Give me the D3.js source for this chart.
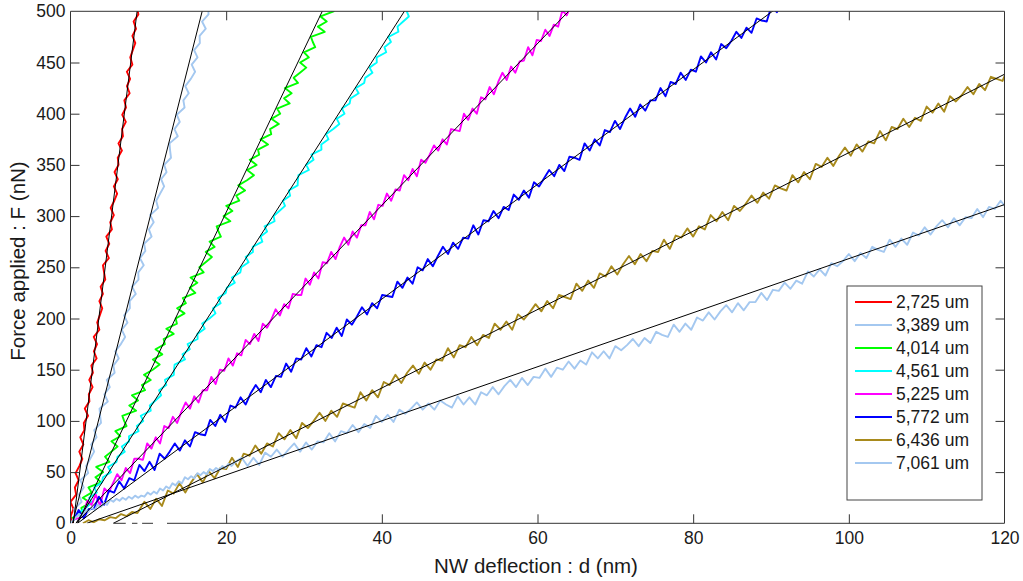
<!DOCTYPE html>
<html>
<head>
<meta charset="utf-8">
<title>Force applied vs NW deflection</title>
<script src="https://cdn.jsdelivr.net/npm/d3@7"></script>
<style>
  html, body { margin:0; padding:0; background:#fff; }
  svg { display:block; font-family:'Liberation Sans', Arial, sans-serif; }
  .tick text { font-size:17.5px; fill:#1a1a1a; }
  .tick line { stroke:#333; }
</style>
</head>
<body>
<svg id="chart" width="1023" height="581"></svg>
<script>
// legend labels (NW length) and colours
var names = ['2,725 um','3,389 um','4,014 um','4,561 um','5,225 um','5,772 um','6,436 um','7,061 um'];
var colors = ['#ff0000','#a4c8f0','#00ff00','#00ffff','#ff00ff','#0000ff','#a88a1c','#a4c8f0'];

// linear fits : F = slope * (d - zero)
var fitSlope = [61, 30, 15.9, 11.85, 7.9, 5.6, 3.83, 2.64];
var fitZero  = [0.36, 0.25, 0.9, 0.7, 0.7, 0.9, 5.5, 2.1];

var xTicks = [0,20,40,60,80,100,120];
var yTicks = [0,50,100,150,200,250,300,350,400,450,500];

// measured curves [d (nm), F (nN)]
var red = [[0.33,0],[0.02,7],[0.38,14],[0.0,21],[0.72,28],[0.56,35],[1.05,42],[0.65,49],[1.15,56],[1.52,63],[1.13,70],[1.65,77],[1.26,84],[1.78,91],[1.71,98],[2.26,105],[1.84,112],[2.43,119],[2.35,126],[2.84,133],[2.41,140],[2.88,147],[2.68,154],[3.35,161],[3.0,168],[3.41,175],[2.99,182],[3.71,189],[3.43,196],[3.76,203],[4.08,210],[3.71,217],[4.17,224],[3.87,231],[4.47,238],[4.31,245],[4.17,252],[4.93,259],[4.51,266],[4.98,273],[4.6,280],[5.32,287],[5.11,294],[5.57,301],[5.16,308],[5.63,315],[5.99,322],[5.57,329],[6.08,336],[5.66,343],[6.17,350],[6.07,357],[6.61,364],[6.16,371],[6.74,378],[6.63,385],[7.11,392],[6.65,399],[7.13,406],[6.92,413],[7.6,420],[7.25,427],[7.66,434],[7.24,441],[7.95,448],[7.68,455],[8.0,462],[8.33,469],[7.95,476],[8.42,483],[8.11,490],[8.72,497],[8.55,504]];

var lightBlue1 = [[0.05,0],[0.63,7],[0.47,14],[1.43,21],[1.08,28],[1.7,35],[1.26,42],[2.27,49],[2.01,56],[2.53,63],[3.04,70],[2.65,77],[3.35,84],[3.05,91],[3.92,98],[3.81,105],[3.73,112],[4.79,119],[4.35,126],[5.05,133],[4.66,140],[5.67,147],[5.51,154],[6.2,161],[5.76,168],[6.47,175],[7.02,182],[6.58,189],[7.32,196],[6.89,203],[7.63,210],[7.6,217],[8.39,224],[7.91,231],[8.74,238],[8.71,245],[9.41,252],[8.92,259],[9.62,266],[9.46,273],[10.42,280],[10.07,287],[10.69,294],[10.25,301],[11.26,308],[11.01,315],[11.52,322],[12.03,329],[11.64,336],[12.34,343],[12.04,350],[12.91,357],[12.8,364],[12.72,371],[13.78,378],[13.35,385],[14.04,392],[13.65,399],[14.66,406],[14.5,413],[15.19,420],[14.75,427],[15.46,434],[16.01,441],[15.57,448],[16.32,455],[15.88,462],[16.62,469],[16.59,476],[17.38,483],[16.9,490],[17.73,497],[17.7,504]];

var green = [[0.19,5],[1.56,10],[1.4,15],[2.53,20],[1.58,25],[2.71,30],[2.31,35],[3.92,40],[3.21,45],[4.18,50],[3.3,55],[4.99,60],[4.44,65],[5.25,70],[6.05,75],[5.26,80],[6.39,85],[5.76,90],[7.2,95],[6.89,100],[6.66,105],[8.43,110],[7.55,115],[8.68,120],[7.89,125],[9.58,130],[9.18,135],[10.31,140],[9.44,145],[10.57,150],[11.45,155],[10.58,160],[11.79,165],[10.92,170],[12.12,175],[11.97,180],[13.26,185],[12.31,190],[13.67,195],[13.52,200],[14.65,205],[13.7,210],[14.82,215],[14.43,220],[16.04,225],[15.33,230],[16.29,235],[15.42,240],[17.11,245],[16.56,250],[17.36,255],[18.17,260],[17.38,265],[18.51,270],[17.87,275],[19.32,280],[19.01,285],[18.78,290],[20.54,295],[19.67,300],[20.8,305],[20.01,310],[21.69,315],[21.3,320],[22.43,325],[21.56,330],[22.68,335],[23.57,340],[22.7,345],[23.91,350],[23.03,355],[24.24,360],[24.09,365],[25.38,370],[24.42,375],[25.79,380],[25.64,385],[26.77,390],[25.81,395],[26.94,400],[26.55,405],[28.16,410],[27.44,415],[28.41,420],[27.54,425],[29.23,430],[28.67,435],[29.48,440],[30.29,445],[29.5,450],[30.62,455],[29.99,460],[31.44,465],[31.13,470],[30.89,475],[32.66,480],[31.79,485],[32.92,490],[32.12,495],[33.81,500],[33.41,505]];

var cyan = [[1.33,5],[1.01,10],[1.94,15],[2.72,20],[2.4,25],[3.38,30],[3.06,35],[4.04,40],[4.17,45],[5.2,50],[4.83,55],[5.91,60],[6.04,65],[6.97,70],[6.6,75],[7.53,80],[7.51,85],[8.74,90],[8.52,95],[9.35,100],[9.03,105],[10.31,110],[10.19,115],[10.92,120],[11.65,125],[11.38,130],[12.31,135],[12.14,140],[13.27,145],[13.3,150],[13.38,155],[14.71,160],[14.39,165],[15.32,170],[15.05,175],[16.33,180],[16.31,185],[17.24,190],[16.92,195],[17.85,200],[18.63,205],[18.31,210],[19.29,215],[18.97,220],[19.95,225],[20.08,230],[21.11,235],[20.74,240],[21.82,245],[21.95,250],[22.88,255],[22.51,260],[23.44,265],[23.42,270],[24.65,275],[24.43,280],[25.26,285],[24.94,290],[26.22,295],[26.1,300],[26.83,305],[27.56,310],[27.29,315],[28.22,320],[28.05,325],[29.18,330],[29.21,335],[29.29,340],[30.62,345],[30.3,350],[31.23,355],[30.96,360],[32.24,365],[32.22,370],[33.15,375],[32.83,380],[33.76,385],[34.54,390],[34.22,395],[35.2,400],[34.88,405],[35.86,410],[35.99,415],[37.02,420],[36.65,425],[37.73,430],[37.86,435],[38.79,440],[38.42,445],[39.35,450],[39.33,455],[40.56,460],[40.34,465],[41.17,470],[40.85,475],[42.13,480],[42.01,485],[42.74,490],[43.47,495],[43.2,500],[44.13,505]];

var magenta = [[0.5,4],[1.05,5],[1.6,7],[2.15,22],[2.7,18],[3.25,28],[3.8,17],[4.35,34],[4.9,30],[5.45,39],[6.0,48],[6.55,42],[7.1,54],[7.65,49],[8.2,63],[8.75,63],[9.3,62],[9.85,78],[10.4,73],[10.95,84],[11.5,78],[12.05,95],[12.6,93],[13.15,104],[13.7,98],[14.25,109],[14.8,118],[15.35,112],[15.9,124],[16.45,118],[17.0,130],[17.55,130],[18.1,143],[18.65,136],[19.2,150],[19.75,149],[20.3,161],[20.85,154],[21.4,166],[21.95,164],[22.5,179],[23.05,175],[23.6,185],[24.15,178],[24.7,195],[25.25,191],[25.8,199],[26.35,209],[26.9,203],[27.45,214],[28.0,210],[28.55,224],[29.1,223],[29.65,223],[30.2,239],[30.75,233],[31.3,245],[31.85,239],[32.4,255],[32.95,254],[33.5,265],[34.05,258],[34.6,270],[35.15,279],[35.7,272],[36.25,285],[36.8,279],[37.35,291],[37.9,291],[38.45,304],[39.0,297],[39.55,311],[40.1,310],[40.65,322],[41.2,315],[41.75,326],[42.3,325],[42.85,340],[43.4,335],[43.95,346],[44.5,339],[45.05,355],[45.6,352],[46.15,360],[46.7,369],[47.25,364],[47.8,375],[48.35,370],[48.9,385],[49.45,384],[50.0,383],[50.55,400],[51.1,394],[51.65,405],[52.2,400],[52.75,416],[53.3,414],[53.85,426],[54.4,419],[54.95,431],[55.5,440],[56.05,433],[56.6,446],[57.15,440],[57.7,451],[58.25,452],[58.8,465],[59.35,457],[59.9,472],[60.45,471],[61.0,482],[61.55,476],[62.1,487],[62.65,485],[63.2,501],[63.75,496],[64.3,506]];

var blue = [[0.4,3],[1.05,13],[1.7,5],[2.35,14],[3.0,14],[3.65,26],[4.3,18],[4.95,32],[5.6,30],[6.25,41],[6.9,34],[7.55,44],[8.2,42],[8.85,57],[9.5,51],[10.15,60],[10.8,52],[11.45,68],[12.1,63],[12.75,70],[13.4,78],[14.05,71],[14.7,81],[15.35,75],[16.0,89],[16.65,87],[17.3,86],[17.95,101],[18.6,95],[19.25,106],[19.9,99],[20.55,115],[21.2,113],[21.85,123],[22.5,116],[23.15,127],[23.8,135],[24.45,128],[25.1,140],[25.75,133],[26.4,144],[27.05,143],[27.7,156],[28.35,148],[29.0,161],[29.65,160],[30.3,171],[30.95,163],[31.6,174],[32.25,172],[32.9,186],[33.55,181],[34.2,191],[34.85,183],[35.5,199],[36.15,194],[36.8,202],[37.45,211],[38.1,204],[38.75,215],[39.4,210],[40.05,223],[40.7,222],[41.35,221],[42.0,236],[42.65,230],[43.3,240],[43.95,234],[44.6,250],[45.25,247],[45.9,258],[46.55,251],[47.2,261],[47.85,270],[48.5,263],[49.15,274],[49.8,268],[50.45,279],[51.1,278],[51.75,291],[52.4,282],[53.05,296],[53.7,295],[54.35,305],[55.0,298],[55.65,309],[56.3,306],[56.95,321],[57.6,316],[58.25,325],[58.9,318],[59.55,333],[60.2,329],[60.85,337],[61.5,345],[62.15,339],[62.8,350],[63.45,344],[64.1,358],[64.75,357],[65.4,355],[66.05,371],[66.7,364],[67.35,375],[68.0,369],[68.65,384],[69.3,382],[69.95,393],[70.6,385],[71.25,396],[71.9,405],[72.55,397],[73.2,409],[73.85,403],[74.5,413],[75.15,413],[75.8,425],[76.45,417],[77.1,431],[77.75,429],[78.4,440],[79.05,433],[79.7,443],[80.35,441],[81.0,456],[81.65,450],[82.3,460],[82.95,453],[83.6,468],[84.25,464],[84.9,471],[85.55,480],[86.2,474],[86.85,484],[87.5,479],[88.15,493],[88.8,491],[89.45,490],[90.1,506],[90.75,499],[91.4,510]];

var gold = [[1.6,0],[2.3,3],[3.0,1],[3.7,4],[4.4,3],[5.1,6],[5.8,5],[6.5,9],[7.2,7],[7.9,11],[8.6,10],[9.5,21],[10.25,14],[11.0,24],[11.75,17],[12.5,32],[13.25,29],[14.0,39],[14.75,30],[15.5,40],[16.25,48],[17.0,40],[17.75,51],[18.5,44],[19.25,54],[20.0,53],[20.75,64],[21.5,55],[22.25,68],[23.0,66],[23.75,76],[24.5,68],[25.25,78],[26.0,75],[26.75,88],[27.5,82],[28.25,91],[29.0,83],[29.75,98],[30.5,93],[31.25,100],[32.0,108],[32.75,100],[33.5,110],[34.25,104],[35.0,117],[35.75,115],[36.5,113],[37.25,128],[38.0,120],[38.75,130],[39.5,123],[40.25,138],[41.0,135],[41.75,145],[42.5,137],[43.25,147],[44.0,154],[44.75,146],[45.5,157],[46.25,150],[47.0,160],[47.75,159],[48.5,171],[49.25,162],[50.0,174],[50.75,172],[51.5,182],[52.25,174],[53.0,184],[53.75,181],[54.5,195],[55.25,189],[56.0,197],[56.75,189],[57.5,204],[58.25,199],[59.0,206],[59.75,214],[60.5,207],[61.25,217],[62.0,210],[62.75,223],[63.5,221],[64.25,219],[65.0,234],[65.75,227],[66.5,237],[67.25,230],[68.0,244],[68.75,241],[69.5,251],[70.25,243],[71.0,253],[71.75,261],[72.5,253],[73.25,263],[74.0,256],[74.75,266],[75.5,265],[76.25,277],[77.0,268],[77.75,281],[78.5,279],[79.25,288],[80.0,280],[80.75,290],[81.5,287],[82.25,301],[83.0,295],[83.75,304],[84.5,296],[85.25,310],[86.0,305],[86.75,312],[87.5,320],[88.25,313],[89.0,323],[89.75,317],[90.5,330],[91.25,327],[92.0,325],[92.75,340],[93.5,333],[94.25,343],[95.0,336],[95.75,351],[96.5,348],[97.25,357],[98.0,349],[98.75,359],[99.5,367],[100.25,359],[101.0,370],[101.75,363],[102.5,373],[103.25,371],[104.0,383],[104.75,374],[105.5,387],[106.25,385],[107.0,395],[107.75,387],[108.5,396],[109.25,393],[110.0,407],[110.75,401],[111.5,410],[112.25,402],[113.0,417],[113.75,412],[114.5,418],[115.25,426],[116.0,419],[116.75,429],[117.5,423],[118.25,436],[119.0,434],[119.75,432],[120.5,446]];

var lightBlue2 = [[0.3,2],[0.7,6],[1.1,9],[1.5,7],[1.9,13],[2.3,11],[2.7,15],[3.1,13],[3.5,18],[3.9,16],[4.3,20],[4.7,18],[5.1,23],[5.5,21],[5.9,24],[6.3,22],[6.7,25],[7.1,23],[7.5,26],[7.9,24],[8.3,27],[8.7,25],[9.1,27],[9.5,26],[9.9,30],[10.3,28],[10.7,31],[11.1,29],[11.5,34],[11.9,32],[12.3,36],[12.7,34],[13.1,39],[13.5,37],[13.9,41],[14.3,39],[14.7,45],[15.1,43],[15.5,46],[15.9,44],[16.3,49],[16.7,47],[17.1,50],[17.5,48],[17.9,53],[18.3,51],[18.7,54],[19.1,52],[19.5,56],[19.9,54],[20.3,58],[20.7,56],[21.2,60],[22.0,64],[22.75,56],[23.5,64],[24.25,57],[25.0,69],[25.75,65],[26.5,72],[27.25,65],[28.0,72],[28.75,78],[29.5,70],[30.25,79],[31.0,72],[31.75,80],[32.5,79],[33.25,88],[34.0,80],[34.75,90],[35.5,88],[36.25,96],[37.0,89],[37.75,97],[38.5,93],[39.25,105],[40.0,99],[40.75,106],[41.5,99],[42.25,111],[43.0,107],[43.75,112],[44.5,118],[45.25,111],[46.0,117],[46.75,111],[47.5,120],[48.25,116],[49.0,113],[49.75,124],[50.5,116],[51.25,123],[52.0,116],[52.75,128],[53.5,125],[54.25,133],[55.0,126],[55.75,134],[56.5,140],[57.25,133],[58.0,142],[58.75,135],[59.5,143],[60.25,142],[61.0,151],[61.75,143],[62.5,152],[63.25,150],[64.0,158],[64.75,151],[65.5,159],[66.25,155],[67.0,167],[67.75,161],[68.5,168],[69.25,161],[70.0,173],[70.75,169],[71.5,174],[72.25,180],[73.0,173],[73.75,181],[74.5,176],[75.25,187],[76.0,184],[76.75,182],[77.5,194],[78.25,187],[79.0,195],[79.75,189],[80.5,201],[81.25,198],[82.0,206],[82.75,199],[83.5,207],[84.25,213],[85.0,206],[85.75,215],[86.5,208],[87.25,216],[88.0,216],[88.75,225],[89.5,218],[90.25,228],[91.0,227],[91.75,235],[92.5,229],[93.25,237],[94.0,234],[94.75,246],[95.5,241],[96.25,248],[97.0,242],[97.75,254],[98.5,251],[99.25,256],[100.0,263],[100.75,256],[101.5,264],[102.25,259],[103.0,270],[103.75,267],[104.5,265],[105.25,277],[106.0,270],[106.75,278],[107.5,272],[108.25,284],[109.0,281],[109.75,289],[110.5,282],[111.25,290],[112.0,296],[112.75,289],[113.5,298],[114.25,291],[115.0,299],[115.75,298],[116.5,307],[117.25,299],[118.0,309],[118.75,307],[119.5,315],[120.25,308],[121.0,316]];

var curves = [red, lightBlue1, green, cyan, magenta, blue, gold, lightBlue2];

// bottom axis line is broken near the origin in the original figure
var bottomSegments = [[5.5,7.1],[7.9,8.6],[9.2,10.6],[12.4,120]];

var svg = d3.select('#chart');
var x = d3.scaleLinear().domain([0,120]).range([70.5,1004.5]);
var y = d3.scaleLinear().domain([0,500]).range([523.3,11.3]);

svg.append('clipPath').attr('id','plotClip')
  .append('rect')
  .attr('x', x(0)).attr('y', y(500))
  .attr('width', x(120)-x(0)).attr('height', y(0)-y(500));

var plot = svg.append('g').attr('clip-path','url(#plotClip)');

var line = d3.line().x(function(p){ return x(p[0]); }).y(function(p){ return y(p[1]); });

plot.selectAll('path.curve')
  .data(curves)
  .enter().append('path')
  .attr('class','curve')
  .attr('d', line)
  .attr('fill','none')
  .attr('stroke', function(d,i){ return colors[i]; })
  .attr('stroke-width', 1.9)
  .attr('stroke-linejoin','round');

// fitted lines on top
plot.selectAll('path.fit')
  .data(fitSlope)
  .enter().append('path')
  .attr('class','fit')
  .attr('d', function(s,i){
      var z = fitZero[i];
      return line([[z,0],[120, s*(120-z)]]);
  })
  .attr('fill','none')
  .attr('stroke','#000')
  .attr('stroke-width', 1);

// axes with inward ticks on all four sides
function clean(g){ g.select('.domain').remove(); }

svg.append('g').attr('transform','translate(0,'+y(0)+')')
  .call(d3.axisBottom(x).tickValues(xTicks).tickSize(-9).tickPadding(8))
  .call(clean);
svg.append('g').attr('transform','translate(0,'+y(500)+')')
  .call(d3.axisTop(x).tickValues(xTicks).tickSize(-9).tickFormat(''))
  .call(clean);
svg.append('g').attr('transform','translate('+x(0)+',0)')
  .call(d3.axisLeft(y).tickValues(yTicks).tickSize(-9).tickPadding(5))
  .call(clean);
svg.append('g').attr('transform','translate('+x(120)+',0)')
  .call(d3.axisRight(y).tickValues(yTicks).tickSize(-9).tickFormat(''))
  .call(clean);
svg.selectAll('.tick line').filter(function(d){ return d===0 || d===120 || d===500; }).remove();

// frame
var frame = svg.append('g').attr('stroke','#333').attr('stroke-width',1);
frame.append('line').attr('x1',x(0)).attr('x2',x(120)).attr('y1',y(500)).attr('y2',y(500));
frame.append('line').attr('x1',x(0)).attr('x2',x(0)).attr('y1',y(0)).attr('y2',y(500));
frame.append('line').attr('x1',x(120)).attr('x2',x(120)).attr('y1',y(0)).attr('y2',y(500));
frame.selectAll('line.seg').data(bottomSegments).enter().append('line')
  .attr('class','seg')
  .attr('x1',function(s){ return x(s[0]); }).attr('x2',function(s){ return x(s[1]); })
  .attr('y1',y(0)).attr('y2',y(0));

// axis titles
svg.append('text')
  .attr('x', 536).attr('y', 573)
  .attr('text-anchor','middle')
  .style('font-size','20.5px').style('fill','#1a1a1a')
  .text('NW deflection : d (nm)');
svg.append('text')
  .attr('transform','translate(25,261) rotate(-90)')
  .attr('text-anchor','middle')
  .style('font-size','20.5px').style('fill','#1a1a1a')
  .text('Force applied : F (nN)');

// legend
var legend = svg.append('g').attr('transform','translate(847,286)');
legend.append('rect')
  .attr('width',135).attr('height',214)
  .attr('fill','#fff').attr('stroke','#444').attr('stroke-width',1);
var item = legend.selectAll('g.item')
  .data(names)
  .enter().append('g')
  .attr('class','item')
  .attr('transform', function(d,i){ return 'translate(0,' + (16 + i*23) + ')'; });
item.append('line')
  .attr('x1',8).attr('x2',45)
  .attr('stroke', function(d,i){ return colors[i]; })
  .attr('stroke-width',2);
item.append('text')
  .attr('x',49).attr('dy','0.36em')
  .style('font-size','17.5px').style('fill','#1a1a1a')
  .text(function(d){ return d; });
</script>
</body>
</html>
